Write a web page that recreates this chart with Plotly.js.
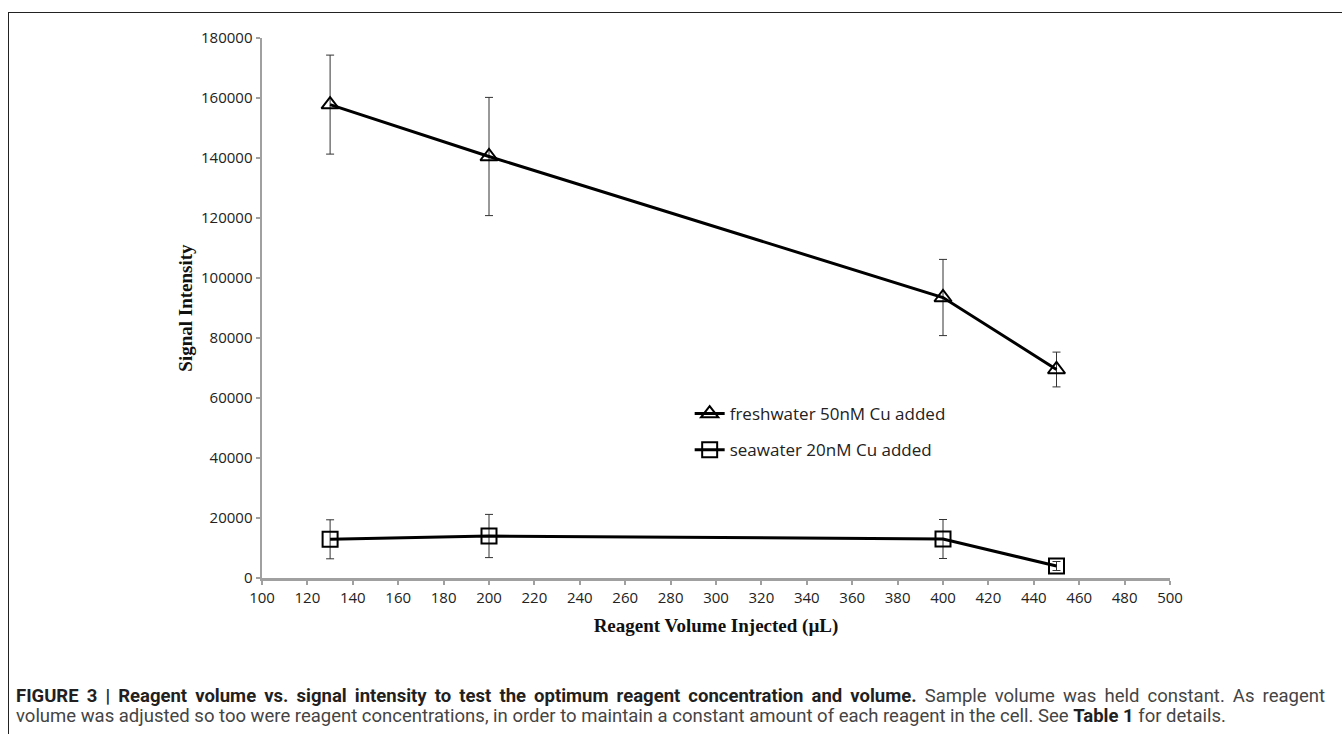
<!DOCTYPE html>
<html>
<head>
<meta charset="utf-8">
<script src="https://cdn.plot.ly/plotly-3.0.1.min.js"></script>
<style>
html,body{margin:0;padding:0;background:#fff;}
#wrap{position:relative;width:1342px;height:734px;overflow:hidden;}
#frame{position:absolute;left:8px;top:12px;width:1400px;height:800px;border:1.5px solid #222;box-sizing:border-box;}
#chart{position:absolute;left:0;top:0;width:1342px;height:734px;}
.cap{position:absolute;left:16px;width:1309px;font-family:Roboto,"Liberation Sans",sans-serif;font-size:18.5px;line-height:21px;color:#444;white-space:nowrap;}
.cap b{color:#231f20;}
#cap1{top:686px;text-align:justify;text-align-last:justify;white-space:normal;}
#cap2{top:706px;}
</style>
</head>
<body>
<div id="wrap">
<div id="frame"></div>
<div id="chart"></div>
<div class="cap" id="cap1"><b>FIGURE 3 | Reagent volume vs. signal intensity to test the optimum reagent concentration and volume.</b> Sample volume was held constant. As reagent</div>
<div class="cap" id="cap2">volume was adjusted so too were reagent concentrations, in order to maintain a constant amount of each reagent in the cell. See <b>Table 1</b> for details.</div>
</div>
<script>
// Data
const volumes = [130, 200, 400, 450];
const freshwater = [157800, 140500, 93500, 69500];
const freshwaterErr = [16500, 19700, 12700, 5800];
const seawater = [12900, 14000, 13000, 4000];
const seawaterErr = [6500, 7200, 6500, 1500];
const seriesNames = ['freshwater 50nM Cu added', 'seawater 20nM Cu added'];
const xTicks = [100,120,140,160,180,200,220,240,260,280,300,320,340,360,380,400,420,440,460,480,500];
const yTicks = [0,20000,40000,60000,80000,100000,120000,140000,160000,180000];

const errStyle = {type:'data', visible:true, color:'#333', thickness:1, width:4};

const traces = [
  {x: volumes, y: freshwater, name: seriesNames[0], legendgroup:'a', type:'scatter', mode:'lines+markers',
   line:{color:'#000', width:3},
   marker:{symbol:'triangle-up-open', size:15, color:'#000', line:{width:2, color:'#000'}},
   error_y: Object.assign({array: freshwaterErr}, errStyle)},
  {x: volumes, y: seawater, name: seriesNames[1], legendgroup:'b', type:'scatter', mode:'lines+markers',
   line:{color:'#000', width:3},
   marker:{symbol:'square-open', size:15, color:'#000', line:{width:2, color:'#000'}},
   error_y: Object.assign({array: seawaterErr}, errStyle)}
];

const tickFont = {family:'"Open Sans", "Liberation Sans", sans-serif', size:15, color:'#222'};
const titleFont = {family:'"Liberation Serif", "DejaVu Serif", serif', size:19, color:'#111', weight:'bold'};

const layout = {
  width:1342, height:734,
  margin:{l:262, r:172, t:38, b:156},
  paper_bgcolor:'rgba(0,0,0,0)', plot_bgcolor:'rgba(0,0,0,0)',
  showlegend:true,
  legend:{x:0.471, y:0.337, xanchor:'left', yanchor:'top', bgcolor:'rgba(0,0,0,0)',
    font:{family:'"Open Sans", "Liberation Sans", sans-serif', size:17, color:'#222'},
    tracegroupgap:11, itemwidth:30},
  xaxis:{range:[100,500], tickvals:xTicks, ticktext:xTicks.map(String),
    showline:true, linecolor:'#a0a0a0', linewidth:2.5, showgrid:false, zeroline:false,
    ticks:'outside', ticklen:4, tickwidth:2, tickcolor:'#a0a0a0', tickfont:tickFont,
    title:{text:'<b>Reagent Volume Injected (µL)</b>', font:titleFont, standoff:13}},
  yaxis:{range:[0,180000], tickvals:yTicks, ticktext:yTicks.map(String),
    showline:true, linecolor:'#a0a0a0', linewidth:2.5, showgrid:false, zeroline:false,
    ticks:'outside', ticklen:4, tickwidth:2, tickcolor:'#a0a0a0', tickfont:tickFont,
    title:{text:'<b>Signal Intensity</b>', font:titleFont, standoff:4}}
};

Plotly.newPlot('chart', traces, layout, {displayModeBar:false, staticPlot:true});
</script>
</body>
</html>
